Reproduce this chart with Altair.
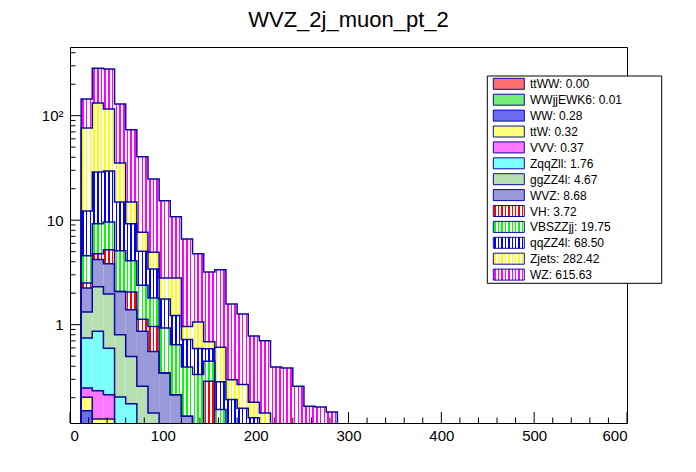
import altair as alt
import pandas as pd

# ---------------- data ----------------
series = ["ttWW", "WWjjEWK6", "WW", "ttW", "VVV", "ZqqZll", "ggZZ4l",
          "WVZ", "VH", "VBSZZjj", "qqZZ4l", "Zjets", "WZ"]
totals = [0.00, 0.01, 0.28, 0.32, 0.37, 1.76, 4.67, 8.68, 3.72, 19.75,
          68.50, 282.42, 615.63]

bin_width = 12
bin_low = list(range(12, 288, 12))  # 23 filled bins, 12..276

ttWW = [0] * 23
WWjjEWK6 = [0, 0.01] + [0] * 21
WW = [0.150] + [0] * 22
ttW = [0.052, 0.115, 0.125] + [0] * 20
VVV = [0.046, 0.108, 0.089] + [0] * 20
ZqqZll = [0.498, 0.630, 0.380, 0.203, 0.175] + [0] * 18
ggZZ4l = [0.574, 1.44, 1.37, 0.597, 0.322, 0.257, 0.143] + [0] * 16
WVZ = [0.92, 1.89, 1.87, 1.28, 0.89, 0.61, 0.41, 0.345, 0.214, 0.133] + [0] * 13
VH = [0.27, 0.59, 1.38, 0, 0.67, 0.26, 0.41, 0, 0, 0, 0, 0.287] + [0] * 11
VBSZZjj = [2.06, 4.48, 4.38, 3.02, 2.04, 1.26, 0.84, 0.585, 0.43, 0.26,
           0.333, 0.16, 0.154] + [0] * 10
qqZZ4l = [7.68, 19.6, 20.0, 9.8, 5.16, 2.65, 1.61, 0.83, 0.58, 0.33, 0.26,
          0.14, 0.13, 0.192, 0.159, 0.129] + [0] * 7
Zjets = [64.0, 103.0, 86.4, 20.4, 5.64, 2.61, 1.51, 1.04, 1.58, 0.24, 0.47,
         0.10, 0.325, 0.106, 0.108, 0.052, 0.143] + [0] * 6
WZ = [68.2, 152.0, 164.0, 93.7, 58.6, 32.7, 19.9, 12.5, 8.0, 5.64, 3.72,
      2.5, 2.75, 1.28, 1.0, 0.60, 0.557, 0.394, 0.385, 0.258, 0.166,
      0.163, 0.146]

values = {"ttWW": ttWW, "WWjjEWK6": WWjjEWK6, "WW": WW, "ttW": ttW,
          "VVV": VVV, "ZqqZll": ZqqZll, "ggZZ4l": ggZZ4l, "WVZ": WVZ,
          "VH": VH, "VBSZZjj": VBSZZjj, "qqZZ4l": qqZZ4l, "Zjets": Zjets,
          "WZ": WZ}

# fill styles: ("hatch", color) vertical hatch, ("solid", color) for checker patterns
styles = {
    "ttWW": ("solid", "#ff6e6e"),
    "WWjjEWK6": ("solid", "#74ee74"),
    "WW": ("solid", "#6c6cf0"),
    "ttW": ("solid", "#ffff78"),
    "VVV": ("solid", "#ff78ff"),
    "ZqqZll": ("solid", "#7cffff"),
    "ggZZ4l": ("solid", "#b6e0b2"),
    "WVZ": ("solid", "#9a9ad8"),
    "VH": ("hatch", "#ff0000"),
    "VBSZZjj": ("hatch", "#00ff00"),
    "qqZZ4l": ("hatch", "#0000ff"),
    "Zjets": ("hatch", "#ffff00"),
    "WZ": ("hatch", "#ff00ff"),
}

x_major = [0, 100, 200, 300, 400, 500, 600]
x_minor = [v for v in range(20, 600, 20) if v % 100 != 0]
y_major = [1, 10, 100]
y_minor = [0.2, 0.3, 0.4, 0.5, 0.6, 0.7, 0.8, 0.9, 2, 3, 4, 5, 6, 7, 8, 9,
           20, 30, 40, 50, 60, 70, 80, 90, 200, 300, 400]

# ---------------- layout ----------------
W, H = 557, 376
FLOOR = 1e-3
OUTLINE = "#0a0aa0"
FONT = "Liberation Sans"

xscale = alt.Scale(domain=[0, 600], nice=False, zero=False)
yscale = alt.Scale(type="log", domain=[0.1146, 454], nice=False)

yaxis = alt.Axis(values=y_major, title="", ticks=False, domain=False, grid=False,
                 labelFont=FONT, labelFontSize=15, labelPadding=7, labelColor="black",
                 labelExpr="datum.value >= 100 ? '10\u00b2' : format(datum.value, 'd')")
xaxis = alt.Axis(values=x_major, title="", ticks=False, domain=False, grid=False,
                 labelFont=FONT, labelFontSize=15, labelPadding=5, labelColor="black",
                 format="d")


def fill_for(name, n_stripes, frac):
    kind, color = styles[name]
    if kind == "solid":
        return color
    half = frac / n_stripes / 2.0
    stops = [alt.GradientStop(offset=0, color="white")]
    for k in range(n_stripes):
        c = (k + 0.5) / n_stripes
        a, b = c - half, c + half
        stops += [alt.GradientStop(offset=a, color="white"),
                  alt.GradientStop(offset=a, color=color),
                  alt.GradientStop(offset=b, color=color),
                  alt.GradientStop(offset=b, color="white")]
    stops.append(alt.GradientStop(offset=1, color="white"))
    return alt.LinearGradient(gradient="linear", stops=stops,
                              x1=0, x2=1, y1=0, y2=0)


# stacked rectangles
rows = []
cum = [0.0] * len(bin_low)
cum_by_series = {}
for s in series:
    vals = values[s]
    for i, lo in enumerate(bin_low):
        bottom = cum[i]
        top = bottom + vals[i]
        if vals[i] > 0:
            rows.append({"series": s, "lo": lo, "hi": lo + bin_width,
                         "bottom": max(bottom, FLOOR), "top": top})
        cum[i] = top
    cum_by_series[s] = list(cum)
rects = pd.DataFrame(rows)

# outlines (step lines of each cumulative histogram)
line_rows = []
for s in series:
    full = {lo: v for lo, v in zip(bin_low, cum_by_series[s])}
    seq = 0
    for lo in range(0, 600, bin_width):
        v = full.get(lo, 0.0)
        v = v if v > 0 else FLOOR
        for xx in (lo, lo + bin_width):
            line_rows.append({"series": s, "x": xx, "y": v, "seq": seq})
            seq += 1
lines = pd.DataFrame(line_rows)

layers = []

# ticks inside the frame, carrying the axes
layers.append(alt.Chart(pd.DataFrame({"v": y_major})).mark_rule(color="black", strokeWidth=1).encode(
    y=alt.Y("v:Q", scale=yscale, axis=yaxis), x=alt.value(0), x2=alt.value(11)))
layers.append(alt.Chart(pd.DataFrame({"v": x_major})).mark_rule(color="black", strokeWidth=1).encode(
    x=alt.X("v:Q", scale=xscale, axis=xaxis), y=alt.value(H), y2=alt.value(H - 11)))

for s in series:
    d = rects[rects["series"] == s]
    if len(d) == 0:
        continue
    layers.append(
        alt.Chart(d).mark_rect(fill=fill_for(s, 3, 0.42), strokeWidth=0, clip=True).encode(
            x=alt.X("lo:Q", scale=xscale, axis=xaxis),
            x2="hi:Q",
            y=alt.Y("top:Q", scale=yscale, axis=yaxis),
            y2="bottom:Q",
        )
    )

layers.append(
    alt.Chart(lines).mark_line(color=OUTLINE, strokeWidth=1.5, clip=True).encode(
        x=alt.X("x:Q", scale=xscale, axis=xaxis),
        y=alt.Y("y:Q", scale=yscale, axis=yaxis),
        detail="series:N",
        order="seq:Q",
    )
)

layers.append(alt.Chart(pd.DataFrame({"v": y_minor})).mark_rule(color="black", strokeWidth=1).encode(
    y=alt.Y("v:Q", scale=yscale, axis=yaxis), x=alt.value(0), x2=alt.value(5.5)))
layers.append(alt.Chart(pd.DataFrame({"v": x_minor})).mark_rule(color="black", strokeWidth=1).encode(
    x=alt.X("v:Q", scale=xscale, axis=xaxis), y=alt.value(H), y2=alt.value(H - 5.5)))

# legend (drawn manually so the swatches can carry the hatch pattern)
one = pd.DataFrame({"a": [0]})
LX0, LX1, LY0, LY1 = 417.3, 591.7, 29.0, 236.3
layers.append(alt.Chart(one).mark_rect(fill="white", stroke="black", strokeWidth=1).encode(
    x=alt.value(LX0), x2=alt.value(LX1), y=alt.value(LY0), y2=alt.value(LY1)))
for k, s in enumerate(series):
    cy = 36.8 + 15.9 * k
    layers.append(alt.Chart(one).mark_rect(fill=fill_for(s, 9, 0.42), stroke=OUTLINE, strokeWidth=1).encode(
        x=alt.value(423.3), x2=alt.value(454.3), y=alt.value(cy - 5.5), y2=alt.value(cy + 5.5)))
    layers.append(alt.Chart(one).mark_text(align="left", baseline="middle", font=FONT,
                                           fontSize=12, color="black").encode(
        x=alt.value(460), y=alt.value(cy + 0.5), text=alt.value(f"{s}: {totals[k]:.2f}")))

chart = alt.layer(*layers).properties(
    width=W, height=H,
    background="white",
    title=alt.TitleParams("WVZ_2j_muon_pt_2", font=FONT, fontSize=22, fontWeight="normal",
                          color="black", anchor="middle", frame="group", offset=15),
    autosize=alt.AutoSizeParams(type="none"),
    padding={"left": 62, "top": 39, "right": 60, "bottom": 40},
).configure_view(stroke="black", strokeWidth=1)

chart.save("out.html", embed_options={"renderer": "svg", "actions": False})
